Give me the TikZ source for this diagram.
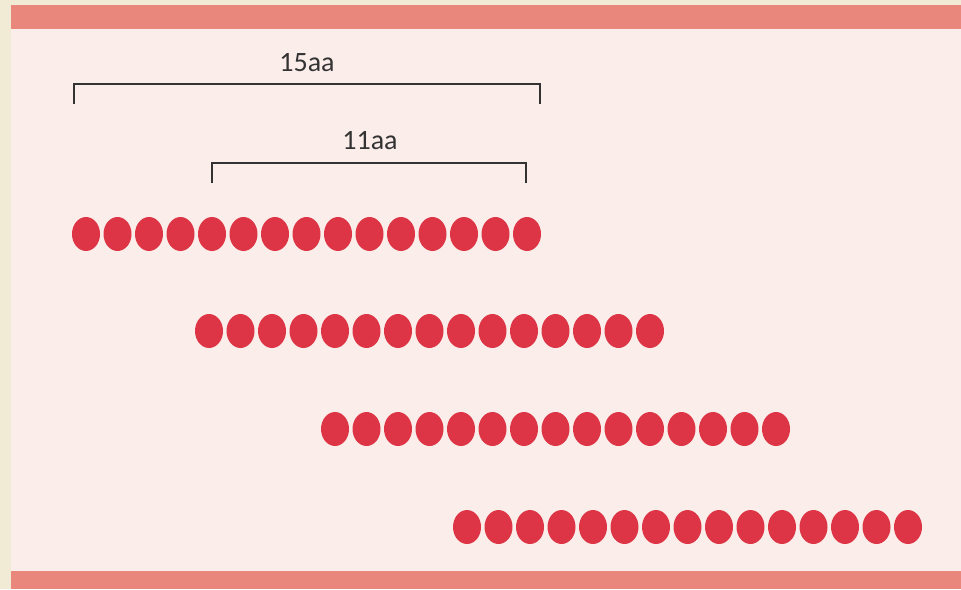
\documentclass[tikz,border=0pt]{standalone}
\usepackage{fontspec}
\setmainfont{Carlito}
\definecolor{beigebg}{HTML}{F1EAD5}
\definecolor{pinkbg}{HTML}{FBEDEA}
\definecolor{salmon}{HTML}{E9877C}
\definecolor{dotred}{HTML}{DD3545}
\definecolor{brk}{HTML}{333333}
\tikzset{
  dot/.style={fill=dotred},
  bracketline/.style={draw=brk, line width=2pt},
  lbl/.style={font=\fontsize{28}{30}\selectfont, text=brk, inner sep=0pt}
}
\begin{document}
\begin{tikzpicture}[x=1pt,y=-1pt]
\useasboundingbox (0,0) rectangle (961,589);
\fill[beigebg] (0,0) rectangle (961,589);
\fill[pinkbg] (11,29) rectangle (961,571);
\fill[salmon] (11,5) rectangle (961,29);
\fill[salmon] (11,571) rectangle (961,589);
% brackets
\coordinate (a1) at (74,104); \coordinate (a2) at (540,104);
\draw[bracketline] (a1) -- (74,84) -- (540,84) -- (a2);
\coordinate (b1) at (212,183); \coordinate (b2) at (526,183);
\draw[bracketline] (b1) -- (212,163) -- (526,163) -- (b2);
\node[lbl] (l15) at (307,63) {15aa};
\node[lbl] (l11) at (370,141) {11aa};
% dots
\foreach \x/\y in {86/234, 209/331, 335/429, 467/527}{
  \foreach \i in {0,...,14}{
    \fill[dot] (\x+\i*31.5,\y) ellipse [x radius=14, y radius=17];
  }
}
\end{tikzpicture}
\end{document}
